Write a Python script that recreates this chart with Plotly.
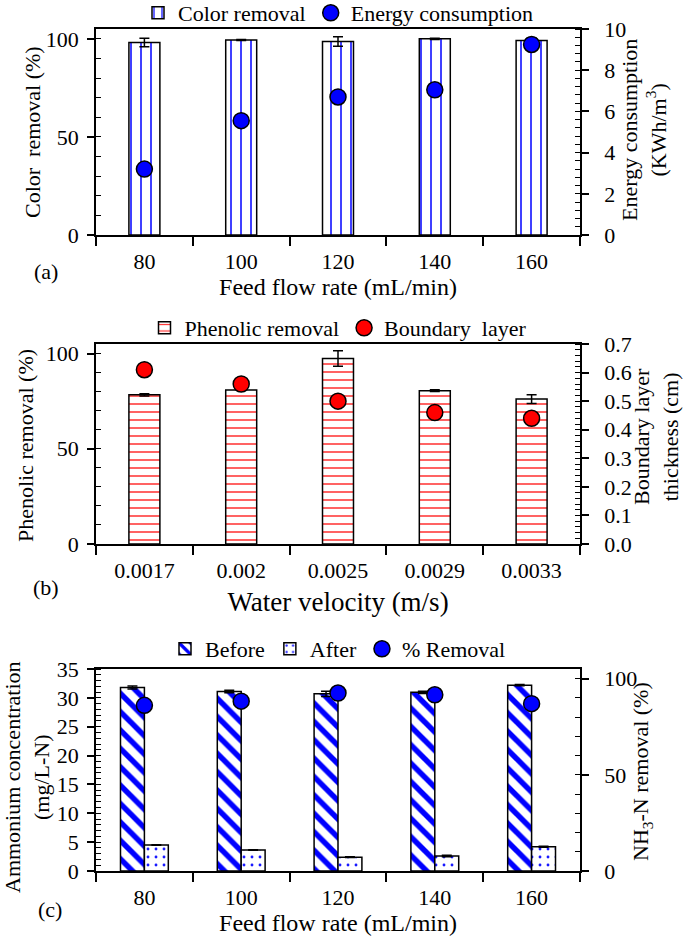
import plotly.graph_objects as go

# ---------------- data ----------------
flow_rates = ["80", "100", "120", "140", "160"]
color_removal = [98.1, 99.4, 98.6, 100.0, 99.1]
color_removal_err = [2.2, 0.3, 2.4, 0.3, 1.5]
energy = [3.2, 5.55, 6.7, 7.05, 9.25]

velocities = ["0.0017", "0.002", "0.0025", "0.0029", "0.0033"]
phenolic_removal = [78.3, 80.9, 97.4, 80.5, 76.1]
phenolic_err = [0.6, 0.3, 4.1, 0.5, 2.3]
boundary_layer = [0.61, 0.56, 0.50, 0.46, 0.44]

nh_before = [31.8, 31.1, 30.7, 30.95, 32.2]
nh_before_err = [0.25, 0.2, 0.45, 0.2, 0.1]
nh_after = [4.5, 3.65, 2.4, 2.6, 4.2]
nh_after_err = [0.05, 0.05, 0.05, 0.15, 0.1]
nh_removal = [86.1, 88.3, 92.5, 91.6, 87.0]

# ---------------- style ----------------
FONT = "Liberation Serif, Times New Roman, serif"
BLUE = "#0000FF"
RED = "#FF0000"
W, H = 685, 936
ML, MR = 96, 105


def py(px):
    return (H - px) / H


def pxx(px):
    return (px - ML) / (W - ML - MR)


err = dict(type="data", color="black", thickness=1.5, width=5)

fig = go.Figure()

# Panel (a)
fig.add_trace(go.Bar(
    x=flow_rates, y=color_removal, name="Color removal",
    width=0.32, offset=-0.16,
    marker=dict(color="white", line=dict(color="black", width=1.5),
                pattern=dict(shape="|", fgcolor=BLUE, bgcolor="white", fgopacity=1,
                             size=10, solidity=0.15)),
    error_y=dict(array=color_removal_err, **err),
    xaxis="x", yaxis="y", legend="legend"))
fig.add_trace(go.Scatter(
    x=flow_rates, y=energy, name="Energy consumption", mode="markers",
    marker=dict(size=16, color=BLUE, line=dict(color="black", width=1.5)),
    xaxis="x", yaxis="y2", legend="legend"))

# Panel (b)
fig.add_trace(go.Bar(
    x=velocities, y=phenolic_removal, name="Phenolic removal",
    width=0.32, offset=-0.16,
    marker=dict(color="white", line=dict(color="black", width=1.5),
                pattern=dict(shape="-", fgcolor=RED, bgcolor="white", fgopacity=0.85,
                             size=8, solidity=0.18)),
    error_y=dict(array=phenolic_err, **err),
    xaxis="x2", yaxis="y3", legend="legend2"))
fig.add_trace(go.Scatter(
    x=velocities, y=boundary_layer, name="Boundary  layer", mode="markers",
    marker=dict(size=16, color=RED, line=dict(color="black", width=1.5)),
    xaxis="x2", yaxis="y4", legend="legend2"))

# Panel (c)
fig.add_trace(go.Bar(
    x=flow_rates, y=nh_before, name="Before",
    width=0.247, offset=-0.247,
    marker=dict(color="white", line=dict(color="black", width=1.5),
                pattern=dict(shape="\\", fgcolor=BLUE, bgcolor="white", fgopacity=1,
                             size=13, solidity=0.42)),
    error_y=dict(array=nh_before_err, **err),
    xaxis="x3", yaxis="y5", legend="legend3"))
fig.add_trace(go.Bar(
    x=flow_rates, y=nh_after, name="After",
    width=0.247, offset=0.0,
    marker=dict(color="white", line=dict(color="black", width=1.5),
                pattern=dict(shape=".", fgcolor=BLUE, bgcolor="white", fgopacity=0.9,
                             size=8, solidity=0.1)),
    error_y=dict(array=nh_after_err, **err),
    xaxis="x3", yaxis="y5", legend="legend3"))
fig.add_trace(go.Scatter(
    x=flow_rates, y=nh_removal, name="% Removal", mode="markers",
    marker=dict(size=16, color=BLUE, line=dict(color="black", width=1.5)),
    xaxis="x3", yaxis="y6", legend="legend3"))

# ---------------- axes ----------------
tickfont = dict(family=FONT, size=22, color="black")


def xax(title, tsize=24, standoff=2):
    return dict(type="category", domain=[0, 1], range=[-0.5, 4.5],
                showline=True, linecolor="black", linewidth=1.5, mirror=True,
                ticks="outside", ticklen=9, tickwidth=1.5, tickcolor="black",
                tickson="boundaries", tickfont=tickfont, ticklabelstandoff=6,
                showgrid=False, zeroline=False, automargin=False,
                title=dict(text=title, font=dict(family=FONT, size=tsize, color="black"),
                           standoff=standoff))


def yax(dom, rng, dtick, minor, side="left", overlay=None, fmt=None):
    d = dict(domain=dom, range=rng, dtick=dtick, tick0=0, side=side,
             showline=True, linecolor="black", linewidth=1.5,
             ticks="outside", ticklen=7, tickwidth=1.5, tickcolor="black",
             minor=dict(dtick=minor, ticks="inside", ticklen=5, tickwidth=1.2, tickcolor="black"),
             tickfont=tickfont, showgrid=False, zeroline=False, automargin=False,
             ticklabelstandoff=(11 if side == "right" else 4))
    if overlay:
        d["overlaying"] = overlay
    if fmt:
        d["tickformat"] = fmt
    return d


dom_a = [py(235), py(29)]
dom_b = [py(544), py(344)]
dom_c = [py(871), py(669)]

legfont = dict(family=FONT, size=22, color="black")

fig.update_layout(
    width=W, height=H,
    margin=dict(l=ML, r=MR, t=0, b=0, autoexpand=False),
    paper_bgcolor="white", plot_bgcolor="white",
    font=dict(family=FONT, color="black"),
    xaxis=dict(anchor="y", **xax("Feed flow rate (mL/min)", standoff=2)),
    yaxis=dict(anchor="x", **yax(dom_a, [0, 105], 50, 10)),
    yaxis2=dict(anchor="x", **yax(dom_a, [0, 10], 2, 0.4, side="right", overlay="y")),
    xaxis2=dict(anchor="y3", **xax("Water velocity (m/s)", tsize=27, standoff=10)),
    yaxis3=dict(anchor="x2", **yax(dom_b, [0, 105], 50, 10)),
    yaxis4=dict(anchor="x2", **yax(dom_b, [0, 0.7], 0.1, 0.02, side="right",
                                   overlay="y3", fmt=".1f")),
    xaxis3=dict(anchor="y5", **xax("Feed flow rate (mL/min)", standoff=5)),
    yaxis5=dict(anchor="x3", **yax(dom_c, [0, 35], 5, 1)),
    yaxis6=dict(anchor="x3", **yax(dom_c, [0, 105], 50, 10, side="right", overlay="y5")),
    legend=dict(orientation="h", x=0.5, xanchor="center", y=py(13), yanchor="middle",
                font=legfont, bgcolor="rgba(0,0,0,0)"),
    legend2=dict(orientation="h", x=0.5, xanchor="center", y=py(328), yanchor="middle",
                 font=legfont, bgcolor="rgba(0,0,0,0)"),
    legend3=dict(orientation="h", x=0.5, xanchor="center", y=py(649), yanchor="middle",
                 font=legfont, bgcolor="rgba(0,0,0,0)"),
    showlegend=True,
)

# y-axis titles (rotated text) and panel letters
ytitles = [
    ("Color  removal (%)", 32, 132),
    ("Energy consumption<br>(KWh/m<sup>3</sup>)", 644, 130),
    ("Phenolic removal (%)", 25, 446),
    ("Boundary layer<br>thickness (cm)", 656, 437),
    ("Ammonium concentration<br>(mg/L-N)", 27, 777),
    ("NH<sub>3</sub>-N removal (%)", 642, 772),
]
for txt, xp, yp in ytitles:
    fig.add_annotation(text=txt, xref="paper", yref="paper", x=pxx(xp), y=py(yp),
                       xanchor="center", yanchor="middle", textangle=-90, showarrow=False,
                       font=dict(family=FONT, size=22, color="black"))

for txt, xp, yp in [("(a)", 46, 272), ("(b)", 46, 587), ("(c)", 50, 909)]:
    fig.add_annotation(text=txt, xref="paper", yref="paper", x=pxx(xp), y=py(yp),
                       xanchor="center", yanchor="middle", showarrow=False,
                       font=dict(family=FONT, size=22, color="black"))

fig.write_html("out.html",
               config={"displayModeBar": False},
               post_script="document.body.style.margin='0';document.body.style.overflow='hidden';")
